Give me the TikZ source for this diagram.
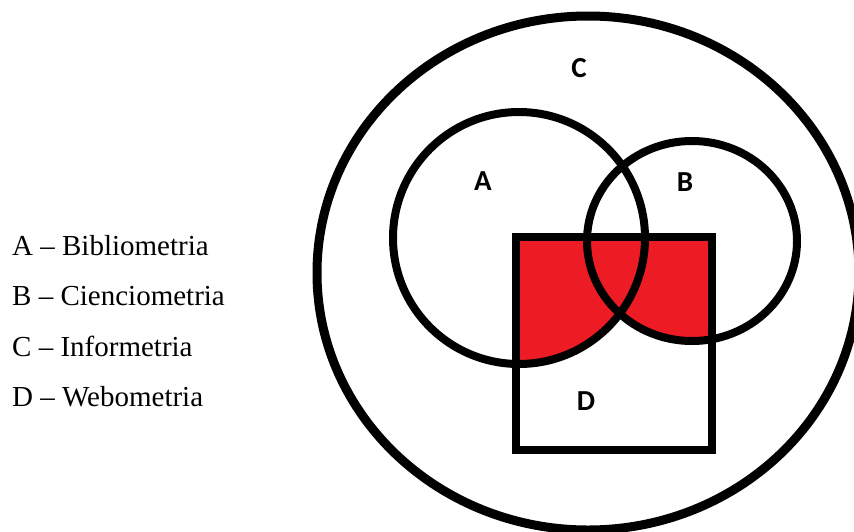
\documentclass[tikz,border=0pt]{standalone}
\usepackage{fontspec}
\setmainfont{Liberation Serif}
\newfontfamily\labfont{Carlito}
\definecolor{paintred}{RGB}{237,28,36}
\begin{document}
\begin{tikzpicture}[x=1pt,y=-1pt,
  outline/.style={draw=black,line width=8pt},
  setlabel/.style={font=\labfont\bfseries\fontsize{29}{32}\selectfont,inner sep=0pt},
  legend/.style={font=\fontsize{29}{34}\selectfont,anchor=base west,inner sep=0pt}]
\useasboundingbox (0,0) rectangle (854,531);
\fill[white] (0,0) rectangle (854,531);
% shading: D inside (A or B)
\begin{scope}
  \clip (515.5,237) rectangle (712,450);
  \fill[paintred] (519,238) circle [radius=126];
  \fill[paintred] (692,241) ellipse [x radius=105, y radius=100];
\end{scope}
\draw[outline,line width=9pt] (588,273) ellipse [x radius=271, y radius=257];
\draw[outline] (519,238) circle [radius=126];
\draw[outline] (692,241) ellipse [x radius=105, y radius=100];
\draw[outline] (515.5,237) rectangle (712,450);
\node[setlabel] (lC) at (579,68) {C};
\node[setlabel] (lA) at (483,181) {A};
\node[setlabel] (lB) at (685,182) {B};
\node[setlabel] (lD) at (586,401) {D};
\node[legend] (g1) at (12,255) {A – Bibliometria};
\node[legend] (g2) at (12,305) {B – Cienciometria};
\node[legend] (g3) at (12,356) {C – Informetria};
\node[legend] (g4) at (12,406) {D – Webometria};
\end{tikzpicture}
\end{document}
